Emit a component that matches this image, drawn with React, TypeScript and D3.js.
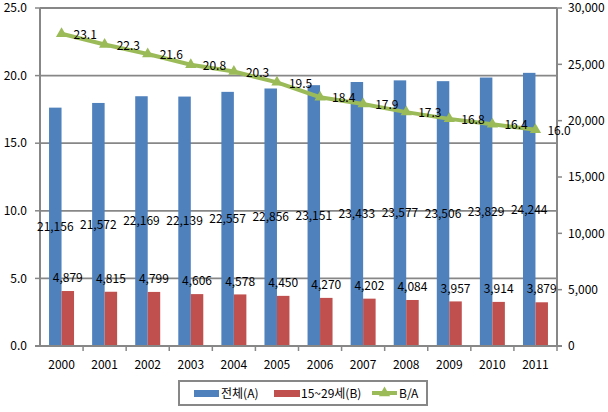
import React from "react";
import * as d3 from "d3";

const years = ["2000","2001","2002","2003","2004","2005","2006","2007","2008","2009","2010","2011"];
const totalA = [21156,21572,22169,22139,22557,22856,23151,23433,23577,23506,23829,24244];
const youthB = [4879,4815,4799,4606,4578,4450,4270,4202,4084,3957,3914,3879];
const ratioBA = [23.1,22.3,21.6,20.8,20.3,19.5,18.4,17.9,17.3,16.8,16.4,16.0];
const leftTicks = [0,5,10,15,20,25];
const rightTicks = [0,5000,10000,15000,20000,25000,30000];
const legendLabels = ["전체(A)", "15~29세(B)", "B/A"];

const W = 608, H = 412;
const margin = { left: 40, right: 51, top: 8, bottom: 66 };
const FONT = "'Noto Sans CJK KR', 'Noto Sans', sans-serif";
const BLUE = "#4F81BD", RED = "#C0504D", GREEN = "#9BBB59", GRID = "#878787";

export default function App() {
  const x0 = margin.left, x1 = W - margin.right;
  const y0 = H - margin.bottom, y1 = margin.top;
  const x = d3.scaleBand().domain(years).range([x0, x1]).paddingInner(0).paddingOuter(0);
  const yL = d3.scaleLinear().domain([0, 25]).range([y0, y1]);
  const yR = d3.scaleLinear().domain([0, 30000]).range([y0, y1]);
  const bw = x.bandwidth();
  const barW = bw * 0.29;
  const cx = (y: string) => (x(y) as number) + bw / 2;
  const line = d3.line<number>().x((_, i) => cx(years[i])).y((d) => yL(d));
  const tri = d3.symbol().type(d3.symbolTriangle).size(55)();
  const fmt = d3.format(",");

  return (
    <svg width={W} height={H} style={{ position: "absolute", left: 0, top: 0, background: "#fff" }} fontFamily={FONT}>
      {/* gridlines */}
      {leftTicks.slice(1).map((t) => (
        <line key={t} x1={x0} x2={x1} y1={yL(t)} y2={yL(t)} stroke={GRID} strokeWidth={1.8} />
      ))}
      {/* bars */}
      {years.map((yr, i) => (
        <g key={yr}>
          <rect x={cx(yr) - barW} y={yR(totalA[i])} width={barW} height={y0 - yR(totalA[i])} fill={BLUE} />
          <rect x={cx(yr)} y={yR(youthB[i])} width={barW} height={y0 - yR(youthB[i])} fill={RED} />
        </g>
      ))}
      {/* axes */}
      <line x1={x0} x2={x0} y1={y1} y2={y0} stroke={GRID} strokeWidth={2} />
      <line x1={x1} x2={x1} y1={y1} y2={y0} stroke={GRID} strokeWidth={2} />
      <line x1={x0 - 5} x2={x1 + 5} y1={y0} y2={y0} stroke={GRID} strokeWidth={2} />
      {leftTicks.map((t) => (
        <g key={"l" + t}>
          <line x1={x0 - 5} x2={x0} y1={yL(t)} y2={yL(t)} stroke={GRID} strokeWidth={1.5} />
          <text x={x0 - 13} y={yL(t)} dy="0.35em" textAnchor="end" fontSize={12} fill="#000">{t.toFixed(1)}</text>
        </g>
      ))}
      {rightTicks.map((t) => (
        <g key={"r" + t}>
          <line x1={x1} x2={x1 + 5} y1={yR(t)} y2={yR(t)} stroke={GRID} strokeWidth={1.5} />
          <text x={x1 + 11} y={yR(t)} dy="0.35em" textAnchor="start" fontSize={12} fill="#000">{fmt(t)}</text>
        </g>
      ))}
      {years.map((yr) => (
        <g key={"x" + yr}>
          <line x1={(x(yr) as number) + bw} x2={(x(yr) as number) + bw} y1={y0} y2={y0 + 5} stroke={GRID} strokeWidth={1.5} />
          <text x={cx(yr)} y={y0 + 19} dy="0.35em" textAnchor="middle" fontSize={12} fill="#000">{yr}</text>
        </g>
      ))}
      {/* data labels for bars */}
      {years.map((yr, i) => (
        <g key={"lb" + yr}>
          <text x={cx(yr) - barW / 2} y={yR(totalA[i] / 2)} dy="0.35em" textAnchor="middle" fontSize={12} fill="#000">{fmt(totalA[i])}</text>
          <text x={cx(yr) + barW / 2} y={yR(youthB[i]) - 13} dy="0.35em" textAnchor="middle" fontSize={12} fill="#000">{fmt(youthB[i])}</text>
        </g>
      ))}
      {/* line */}
      <path d={line(ratioBA) as string} fill="none" stroke={GREEN} strokeWidth={4} />
      {ratioBA.map((v, i) => (
        <path key={"m" + i} d={tri as string} transform={`translate(${cx(years[i])},${yL(v)})`} fill={GREEN} />
      ))}
      {ratioBA.map((v, i) => (
        <text key={"t" + i} x={cx(years[i]) + 12} y={yL(v) + 1} dy="0.35em" textAnchor="start" fontSize={12} fill="#000">{v.toFixed(1)}</text>
      ))}
      {/* legend */}
      <g>
        <rect x={179} y={381} width={248} height={24} fill="#fff" stroke={GRID} strokeWidth={2} />
        <rect x={194} y={390} width={25} height={7} fill={BLUE} />
        <text x={221} y={394} dy="0.35em" fontSize={12} fill="#000">{legendLabels[0]}</text>
        <rect x={274} y={390} width={26} height={7} fill={RED} />
        <text x={301} y={394} dy="0.35em" fontSize={12} fill="#000">{legendLabels[1]}</text>
        <line x1={372} x2={397} y1={393} y2={393} stroke={GREEN} strokeWidth={4} />
        <path d={tri as string} transform="translate(384.5,393)" fill={GREEN} />
        <text x={399} y={394} dy="0.35em" fontSize={12} fill="#000">{legendLabels[2]}</text>
      </g>
    </svg>
  );
}
